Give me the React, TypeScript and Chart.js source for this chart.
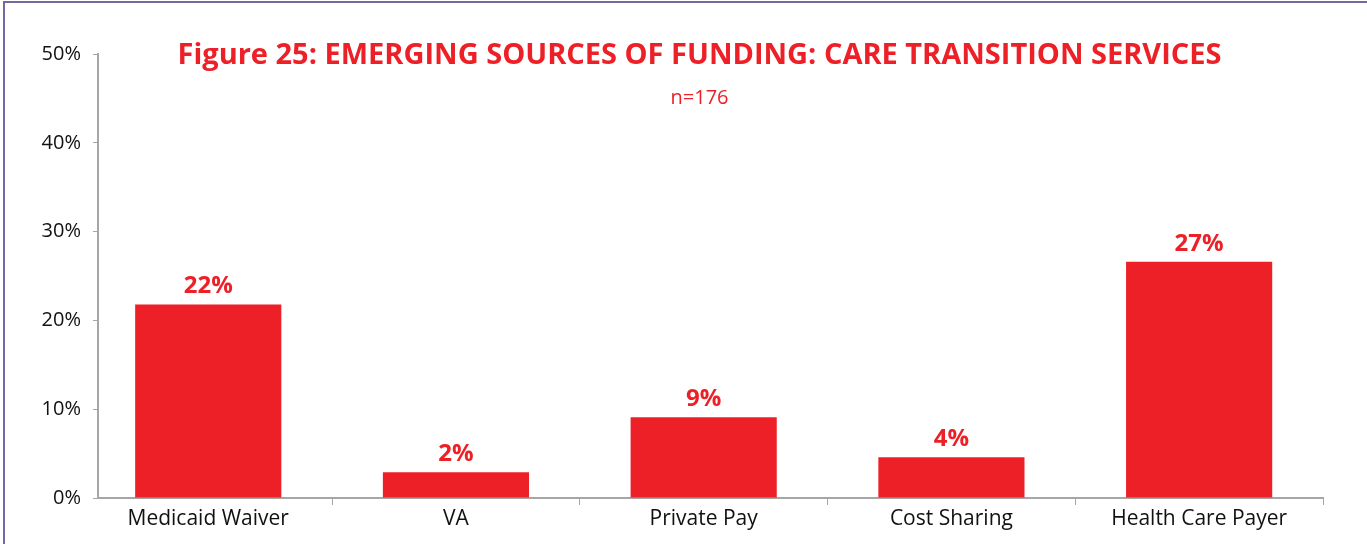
import React, { useEffect, useRef } from "react";
import { Chart, registerables } from "chart.js";

Chart.register(...registerables);

const categories = ["Medicaid Waiver", "VA", "Private Pay", "Cost Sharing", "Health Care Payer"];
const shares = [21.8, 2.9, 9.1, 4.6, 26.6];
const valueLabels = ["22%", "2%", "9%", "4%", "27%"];
const yTicks = [0, 10, 20, 30, 40, 50];
const titleText = "Figure 25: EMERGING SOURCES OF FUNDING: CARE TRANSITION SERVICES";
const subtitleText = "n=176";

const RED = "#ED2027";
const FONT = "'Open Sans', sans-serif";

export default function App() {
  const canvasRef = useRef<HTMLCanvasElement | null>(null);

  useEffect(() => {
    document.body.style.margin = "0";
    const canvas = canvasRef.current;
    if (!canvas) return;

    const labelPlugin = {
      id: "overlayText",
      afterDatasetsDraw(chart: any) {
        const ctx = chart.ctx;
        const meta = chart.getDatasetMeta(0);
        ctx.save();
        ctx.fillStyle = RED;
        ctx.textAlign = "center";
        ctx.textBaseline = "alphabetic";
        ctx.font = `bold 24px ${FONT}`;
        meta.data.forEach((bar: any, i: number) => {
          ctx.fillText(valueLabels[i], bar.x, bar.y - 11);
        });
        const { left, right, top } = chart.chartArea;
        const cx = (left + right) / 2 - 11;
        ctx.font = `bold 29px ${FONT}`;
        ctx.fillText(titleText, cx, top + 10);
        ctx.font = `20px ${FONT}`;
        ctx.fillText(subtitleText, cx, top + 50);
        ctx.restore();
      },
    };

    const chart = new Chart(canvas, {
      type: "bar",
      data: {
        datasets: [
          {
            data: shares.map((v, i) => ({ x: i, y: v })),
            backgroundColor: RED,
            borderWidth: 0,
            categoryPercentage: 1,
            barPercentage: 0.59,
          },
        ],
      },
      options: {
        animation: false,
        responsive: false,
        maintainAspectRatio: false,
        layout: { padding: { top: 54, right: 44, bottom: 0, left: 0 } },
        plugins: {
          legend: { display: false },
          tooltip: { enabled: false },
          title: { display: false },
        },
        scales: {
          x: {
            type: "linear",
            offset: false,
            bounds: "data",
            min: -0.445,
            max: 4.5,
            afterBuildTicks(scale: any) {
              scale.ticks = categories.map((_, i) => ({ value: i }));
            },
            afterFit(scale: any) {
              scale.height = 46;
            },
            grid: {
              offset: true,
              drawOnChartArea: false,
              drawTicks: true,
              tickLength: 7,
              color: "#A6A6A6",
            },
            border: { display: true, color: "#A6A6A6", width: 2 },
            ticks: {
              autoSkip: false,
              maxRotation: 0,
              padding: 1,
              color: "#111111",
              font: { family: FONT, size: 21 },
              callback: (v: any) => categories[v as number] ?? "",
            },
          },
          y: {
            min: 0,
            max: 50,
            afterBuildTicks(scale: any) {
              scale.ticks = yTicks.map((v) => ({ value: v }));
            },
            afterFit(scale: any) {
              scale.width = 98;
            },
            grid: {
              drawOnChartArea: false,
              drawTicks: true,
              tickLength: 5,
              color: "#A6A6A6",
            },
            border: { display: true, color: "#A6A6A6", width: 2 },
            ticks: {
              padding: 12,
              color: "#111111",
              font: { family: FONT, size: 20 },
              callback: (v: any) => `${v}%`,
            },
          },
        },
      },
      plugins: [labelPlugin],
    } as any);

    return () => chart.destroy();
  }, []);

  return (
    <div style={{ position: "relative", width: 1367, height: 544, overflow: "hidden", background: "#fff" }}>
      <canvas ref={canvasRef} width={1367} height={544} style={{ position: "absolute", left: 0, top: 0 }} />
      <div
        style={{
          position: "absolute",
          left: 3,
          top: 1,
          width: 1400,
          height: 600,
          borderTop: "2px solid #76689F",
          borderLeft: "2px solid #76689F",
          pointerEvents: "none",
        }}
      />
    </div>
  );
}
